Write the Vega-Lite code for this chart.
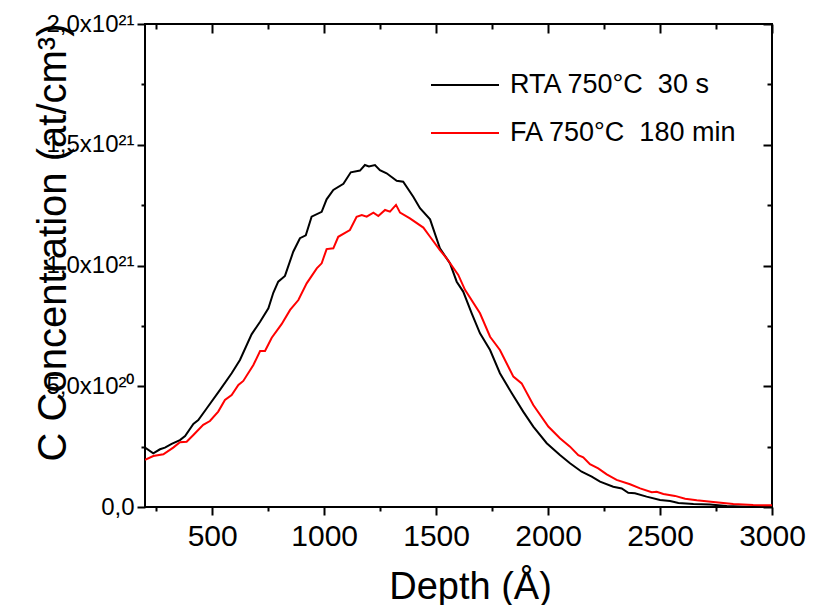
{
  "$schema": "https://vega.github.io/schema/vega-lite/v6.json",
  "width": 627,
  "height": 483,
  "autosize": "none",
  "padding": {"left": 145, "top": 24, "right": 41, "bottom": 98},
  "background": "white",
  "config": {
    "font": "Liberation Sans",
    "view": {"stroke": "black", "strokeWidth": 2},
    "axis": {"domain": false, "grid": false, "tickColor": "black", "tickWidth": 2, "labelColor": "black", "titleColor": "black", "labelOverlap": false, "labelFlush": false, "labelBound": false, "titleFontWeight": "normal", "labelFont": "Liberation Sans", "titleFont": "Liberation Sans"},
    "legend": {"labelFont": "Liberation Sans"}
  },
  "datasets": {
    "profiles": [
      {"d": 200, "c": 2.46e20, "s": "RTA 750°C\u00a0 30 s"},
      {"d": 237, "c": 2.22e20, "s": "RTA 750°C\u00a0 30 s"},
      {"d": 267, "c": 2.39e20, "s": "RTA 750°C\u00a0 30 s"},
      {"d": 289, "c": 2.46e20, "s": "RTA 750°C\u00a0 30 s"},
      {"d": 319, "c": 2.61e20, "s": "RTA 750°C\u00a0 30 s"},
      {"d": 356, "c": 2.77e20, "s": "RTA 750°C\u00a0 30 s"},
      {"d": 379, "c": 2.94e20, "s": "RTA 750°C\u00a0 30 s"},
      {"d": 416, "c": 3.44e20, "s": "RTA 750°C\u00a0 30 s"},
      {"d": 438, "c": 3.60e20, "s": "RTA 750°C\u00a0 30 s"},
      {"d": 476, "c": 4.09e20, "s": "RTA 750°C\u00a0 30 s"},
      {"d": 535, "c": 4.85e20, "s": "RTA 750°C\u00a0 30 s"},
      {"d": 587, "c": 5.54e20, "s": "RTA 750°C\u00a0 30 s"},
      {"d": 624, "c": 6.09e20, "s": "RTA 750°C\u00a0 30 s"},
      {"d": 676, "c": 7.15e20, "s": "RTA 750°C\u00a0 30 s"},
      {"d": 714, "c": 7.67e20, "s": "RTA 750°C\u00a0 30 s"},
      {"d": 751, "c": 8.23e20, "s": "RTA 750°C\u00a0 30 s"},
      {"d": 773, "c": 8.87e20, "s": "RTA 750°C\u00a0 30 s"},
      {"d": 795, "c": 9.33e20, "s": "RTA 750°C\u00a0 30 s"},
      {"d": 825, "c": 9.57e20, "s": "RTA 750°C\u00a0 30 s"},
      {"d": 862, "c": 10.57e20, "s": "RTA 750°C\u00a0 30 s"},
      {"d": 892, "c": 11.13e20, "s": "RTA 750°C\u00a0 30 s"},
      {"d": 918, "c": 11.25e20, "s": "RTA 750°C\u00a0 30 s"},
      {"d": 944, "c": 12.02e20, "s": "RTA 750°C\u00a0 30 s"},
      {"d": 989, "c": 12.22e20, "s": "RTA 750°C\u00a0 30 s"},
      {"d": 1011, "c": 12.74e20, "s": "RTA 750°C\u00a0 30 s"},
      {"d": 1041, "c": 13.13e20, "s": "RTA 750°C\u00a0 30 s"},
      {"d": 1086, "c": 13.38e20, "s": "RTA 750°C\u00a0 30 s"},
      {"d": 1119, "c": 13.86e20, "s": "RTA 750°C\u00a0 30 s"},
      {"d": 1160, "c": 13.93e20, "s": "RTA 750°C\u00a0 30 s"},
      {"d": 1182, "c": 14.16e20, "s": "RTA 750°C\u00a0 30 s"},
      {"d": 1200, "c": 14.10e20, "s": "RTA 750°C\u00a0 30 s"},
      {"d": 1227, "c": 14.16e20, "s": "RTA 750°C\u00a0 30 s"},
      {"d": 1249, "c": 13.95e20, "s": "RTA 750°C\u00a0 30 s"},
      {"d": 1279, "c": 13.82e20, "s": "RTA 750°C\u00a0 30 s"},
      {"d": 1324, "c": 13.51e20, "s": "RTA 750°C\u00a0 30 s"},
      {"d": 1353, "c": 13.47e20, "s": "RTA 750°C\u00a0 30 s"},
      {"d": 1398, "c": 12.85e20, "s": "RTA 750°C\u00a0 30 s"},
      {"d": 1428, "c": 12.37e20, "s": "RTA 750°C\u00a0 30 s"},
      {"d": 1473, "c": 11.91e20, "s": "RTA 750°C\u00a0 30 s"},
      {"d": 1517, "c": 10.71e20, "s": "RTA 750°C\u00a0 30 s"},
      {"d": 1562, "c": 10.09e20, "s": "RTA 750°C\u00a0 30 s"},
      {"d": 1592, "c": 9.33e20, "s": "RTA 750°C\u00a0 30 s"},
      {"d": 1621, "c": 8.92e20, "s": "RTA 750°C\u00a0 30 s"},
      {"d": 1659, "c": 8.02e20, "s": "RTA 750°C\u00a0 30 s"},
      {"d": 1696, "c": 7.19e20, "s": "RTA 750°C\u00a0 30 s"},
      {"d": 1741, "c": 6.50e20, "s": "RTA 750°C\u00a0 30 s"},
      {"d": 1785, "c": 5.54e20, "s": "RTA 750°C\u00a0 30 s"},
      {"d": 1838, "c": 4.71e20, "s": "RTA 750°C\u00a0 30 s"},
      {"d": 1889, "c": 3.95e20, "s": "RTA 750°C\u00a0 30 s"},
      {"d": 1934, "c": 3.33e20, "s": "RTA 750°C\u00a0 30 s"},
      {"d": 1994, "c": 2.64e20, "s": "RTA 750°C\u00a0 30 s"},
      {"d": 2053, "c": 2.15e20, "s": "RTA 750°C\u00a0 30 s"},
      {"d": 2098, "c": 1.81e20, "s": "RTA 750°C\u00a0 30 s"},
      {"d": 2150, "c": 1.46e20, "s": "RTA 750°C\u00a0 30 s"},
      {"d": 2195, "c": 1.26e20, "s": "RTA 750°C\u00a0 30 s"},
      {"d": 2232, "c": 1.05e20, "s": "RTA 750°C\u00a0 30 s"},
      {"d": 2291, "c": 0.84e20, "s": "RTA 750°C\u00a0 30 s"},
      {"d": 2329, "c": 0.77e20, "s": "RTA 750°C\u00a0 30 s"},
      {"d": 2358, "c": 0.59e20, "s": "RTA 750°C\u00a0 30 s"},
      {"d": 2388, "c": 0.57e20, "s": "RTA 750°C\u00a0 30 s"},
      {"d": 2440, "c": 0.43e20, "s": "RTA 750°C\u00a0 30 s"},
      {"d": 2500, "c": 0.29e20, "s": "RTA 750°C\u00a0 30 s"},
      {"d": 2545, "c": 0.25e20, "s": "RTA 750°C\u00a0 30 s"},
      {"d": 2582, "c": 0.17e20, "s": "RTA 750°C\u00a0 30 s"},
      {"d": 2649, "c": 0.12e20, "s": "RTA 750°C\u00a0 30 s"},
      {"d": 2723, "c": 0.10e20, "s": "RTA 750°C\u00a0 30 s"},
      {"d": 2798, "c": 0.04e20, "s": "RTA 750°C\u00a0 30 s"},
      {"d": 2887, "c": 0.01e20, "s": "RTA 750°C\u00a0 30 s"},
      {"d": 3000, "c": 0.01e20, "s": "RTA 750°C\u00a0 30 s"},
      {"d": 200, "c": 1.95e20, "s": "FA 750°C\u00a0 180 min"},
      {"d": 237, "c": 2.11e20, "s": "FA 750°C\u00a0 180 min"},
      {"d": 282, "c": 2.18e20, "s": "FA 750°C\u00a0 180 min"},
      {"d": 326, "c": 2.46e20, "s": "FA 750°C\u00a0 180 min"},
      {"d": 356, "c": 2.68e20, "s": "FA 750°C\u00a0 180 min"},
      {"d": 386, "c": 2.70e20, "s": "FA 750°C\u00a0 180 min"},
      {"d": 416, "c": 2.98e20, "s": "FA 750°C\u00a0 180 min"},
      {"d": 460, "c": 3.40e20, "s": "FA 750°C\u00a0 180 min"},
      {"d": 490, "c": 3.56e20, "s": "FA 750°C\u00a0 180 min"},
      {"d": 527, "c": 3.95e20, "s": "FA 750°C\u00a0 180 min"},
      {"d": 557, "c": 4.43e20, "s": "FA 750°C\u00a0 180 min"},
      {"d": 587, "c": 4.64e20, "s": "FA 750°C\u00a0 180 min"},
      {"d": 617, "c": 5.05e20, "s": "FA 750°C\u00a0 180 min"},
      {"d": 639, "c": 5.22e20, "s": "FA 750°C\u00a0 180 min"},
      {"d": 684, "c": 5.88e20, "s": "FA 750°C\u00a0 180 min"},
      {"d": 714, "c": 6.46e20, "s": "FA 750°C\u00a0 180 min"},
      {"d": 736, "c": 6.46e20, "s": "FA 750°C\u00a0 180 min"},
      {"d": 766, "c": 7.01e20, "s": "FA 750°C\u00a0 180 min"},
      {"d": 810, "c": 7.57e20, "s": "FA 750°C\u00a0 180 min"},
      {"d": 848, "c": 8.16e20, "s": "FA 750°C\u00a0 180 min"},
      {"d": 885, "c": 8.57e20, "s": "FA 750°C\u00a0 180 min"},
      {"d": 922, "c": 9.26e20, "s": "FA 750°C\u00a0 180 min"},
      {"d": 967, "c": 9.88e20, "s": "FA 750°C\u00a0 180 min"},
      {"d": 989, "c": 10.09e20, "s": "FA 750°C\u00a0 180 min"},
      {"d": 1011, "c": 10.68e20, "s": "FA 750°C\u00a0 180 min"},
      {"d": 1041, "c": 10.71e20, "s": "FA 750°C\u00a0 180 min"},
      {"d": 1063, "c": 11.19e20, "s": "FA 750°C\u00a0 180 min"},
      {"d": 1115, "c": 11.47e20, "s": "FA 750°C\u00a0 180 min"},
      {"d": 1145, "c": 12.02e20, "s": "FA 750°C\u00a0 180 min"},
      {"d": 1168, "c": 12.09e20, "s": "FA 750°C\u00a0 180 min"},
      {"d": 1190, "c": 12.02e20, "s": "FA 750°C\u00a0 180 min"},
      {"d": 1220, "c": 12.19e20, "s": "FA 750°C\u00a0 180 min"},
      {"d": 1242, "c": 12.05e20, "s": "FA 750°C\u00a0 180 min"},
      {"d": 1272, "c": 12.30e20, "s": "FA 750°C\u00a0 180 min"},
      {"d": 1294, "c": 12.23e20, "s": "FA 750°C\u00a0 180 min"},
      {"d": 1321, "c": 12.51e20, "s": "FA 750°C\u00a0 180 min"},
      {"d": 1339, "c": 12.19e20, "s": "FA 750°C\u00a0 180 min"},
      {"d": 1383, "c": 11.95e20, "s": "FA 750°C\u00a0 180 min"},
      {"d": 1443, "c": 11.57e20, "s": "FA 750°C\u00a0 180 min"},
      {"d": 1473, "c": 11.19e20, "s": "FA 750°C\u00a0 180 min"},
      {"d": 1517, "c": 10.64e20, "s": "FA 750°C\u00a0 180 min"},
      {"d": 1547, "c": 10.30e20, "s": "FA 750°C\u00a0 180 min"},
      {"d": 1599, "c": 9.61e20, "s": "FA 750°C\u00a0 180 min"},
      {"d": 1629, "c": 8.99e20, "s": "FA 750°C\u00a0 180 min"},
      {"d": 1696, "c": 8.02e20, "s": "FA 750°C\u00a0 180 min"},
      {"d": 1741, "c": 7.05e20, "s": "FA 750°C\u00a0 180 min"},
      {"d": 1785, "c": 6.50e20, "s": "FA 750°C\u00a0 180 min"},
      {"d": 1845, "c": 5.40e20, "s": "FA 750°C\u00a0 180 min"},
      {"d": 1882, "c": 5.12e20, "s": "FA 750°C\u00a0 180 min"},
      {"d": 1934, "c": 4.22e20, "s": "FA 750°C\u00a0 180 min"},
      {"d": 2001, "c": 3.33e20, "s": "FA 750°C\u00a0 180 min"},
      {"d": 2053, "c": 2.85e20, "s": "FA 750°C\u00a0 180 min"},
      {"d": 2098, "c": 2.50e20, "s": "FA 750°C\u00a0 180 min"},
      {"d": 2135, "c": 2.15e20, "s": "FA 750°C\u00a0 180 min"},
      {"d": 2157, "c": 2.06e20, "s": "FA 750°C\u00a0 180 min"},
      {"d": 2187, "c": 1.77e20, "s": "FA 750°C\u00a0 180 min"},
      {"d": 2224, "c": 1.60e20, "s": "FA 750°C\u00a0 180 min"},
      {"d": 2262, "c": 1.35e20, "s": "FA 750°C\u00a0 180 min"},
      {"d": 2306, "c": 1.12e20, "s": "FA 750°C\u00a0 180 min"},
      {"d": 2366, "c": 0.94e20, "s": "FA 750°C\u00a0 180 min"},
      {"d": 2411, "c": 0.77e20, "s": "FA 750°C\u00a0 180 min"},
      {"d": 2463, "c": 0.61e20, "s": "FA 750°C\u00a0 180 min"},
      {"d": 2485, "c": 0.63e20, "s": "FA 750°C\u00a0 180 min"},
      {"d": 2515, "c": 0.54e20, "s": "FA 750°C\u00a0 180 min"},
      {"d": 2567, "c": 0.46e20, "s": "FA 750°C\u00a0 180 min"},
      {"d": 2612, "c": 0.34e20, "s": "FA 750°C\u00a0 180 min"},
      {"d": 2664, "c": 0.28e20, "s": "FA 750°C\u00a0 180 min"},
      {"d": 2738, "c": 0.21e20, "s": "FA 750°C\u00a0 180 min"},
      {"d": 2827, "c": 0.12e20, "s": "FA 750°C\u00a0 180 min"},
      {"d": 2916, "c": 0.08e20, "s": "FA 750°C\u00a0 180 min"},
      {"d": 3000, "c": 0.07e20, "s": "FA 750°C\u00a0 180 min"}
    ]
  },
  "data": {"name": "profiles"},
  "resolve": {"axis": {"x": "independent", "y": "independent"}},
  "layer": [
    {
      "mark": {"type": "line", "strokeWidth": 2, "clip": true},
      "encoding": {
        "x": {
          "field": "d", "type": "quantitative",
          "scale": {"domain": [200, 3000], "nice": false, "zero": false},
          "axis": {
            "orient": "bottom", "values": [500, 1000, 1500, 2000, 2500, 3000], "format": "d",
            "tickSize": 8, "labelFontSize": 30, "labelPadding": 6,
            "title": "Depth (Å)", "titleFontSize": 38,
            "titleX": 325, "titleY": 91, "titleBaseline": "alphabetic", "titleAlign": "center"
          }
        },
        "y": {
          "field": "c", "type": "quantitative",
          "scale": {"domain": [0, 2e21], "nice": false, "zero": true},
          "axis": {
            "orient": "left", "values": [0, 5e20, 1e21, 1.5e21, 2e21],
            "labelExpr": "datum.value == 0 ? '0,0' : datum.value < 6e20 ? '5,0x10²⁰' : datum.value < 1.2e21 ? '1,0x10²¹' : datum.value < 1.7e21 ? '1,5x10²¹' : '2,0x10²¹'",
            "tickSize": 8, "labelFontSize": 24, "labelPadding": 3,
            "title": "C Concentration (at/cm³)", "titleFontSize": 40,
            "titleX": -80, "titleY": 218, "titleBaseline": "alphabetic", "titleAlign": "center", "titleAngle": 270
          }
        },
        "color": {
          "field": "s", "type": "nominal",
          "scale": {"domain": ["RTA 750°C\u00a0 30 s", "FA 750°C\u00a0 180 min"], "range": ["#000000", "#ff0000"]},
          "legend": {
            "orient": "none", "legendX": 285, "legendY": 26, "title": null,
            "symbolType": "stroke", "symbolSize": 4624, "symbolStrokeWidth": 2,
            "labelFontSize": 27, "labelOffset": 10, "rowPadding": -22,
            "labelColor": "black", "labelLimit": 400, "padding": 0
          }
        }
      }
    },
    {
      "mark": {"type": "line", "strokeOpacity": 0},
      "encoding": {
        "detail": {"field": "s"},
        "x": {"field": "d", "type": "quantitative", "scale": {"domain": [200, 3000], "nice": false, "zero": false},
          "axis": {"orient": "bottom", "values": [250, 750, 1250, 1750, 2250, 2750], "labels": false, "tickSize": 4, "title": null}},
        "y": {"field": "c", "type": "quantitative", "scale": {"domain": [0, 2e21], "nice": false},
          "axis": {"orient": "left", "values": [2.5e20, 7.5e20, 1.25e21, 1.75e21], "labels": false, "tickSize": 4, "title": null}}
      }
    },
    {
      "mark": {"type": "line", "strokeOpacity": 0},
      "encoding": {
        "detail": {"field": "s"},
        "x": {"field": "d", "type": "quantitative", "scale": {"domain": [200, 3000], "nice": false, "zero": false},
          "axis": {"orient": "top", "values": [500, 1000, 1500, 2000, 2500, 3000], "labels": false, "tickSize": -9, "title": null}},
        "y": {"field": "c", "type": "quantitative", "scale": {"domain": [0, 2e21], "nice": false},
          "axis": {"orient": "right", "values": [0, 5e20, 1e21, 1.5e21, 2e21], "labels": false, "tickSize": -9, "title": null}}
      }
    },
    {
      "mark": {"type": "line", "strokeOpacity": 0},
      "encoding": {
        "detail": {"field": "s"},
        "x": {"field": "d", "type": "quantitative", "scale": {"domain": [200, 3000], "nice": false, "zero": false},
          "axis": {"orient": "top", "values": [250, 750, 1250, 1750, 2250, 2750], "labels": false, "tickSize": -5, "title": null}},
        "y": {"field": "c", "type": "quantitative", "scale": {"domain": [0, 2e21], "nice": false},
          "axis": {"orient": "right", "values": [2.5e20, 7.5e20, 1.25e21, 1.75e21], "labels": false, "tickSize": -5, "title": null}}
      }
    }
  ]
}
